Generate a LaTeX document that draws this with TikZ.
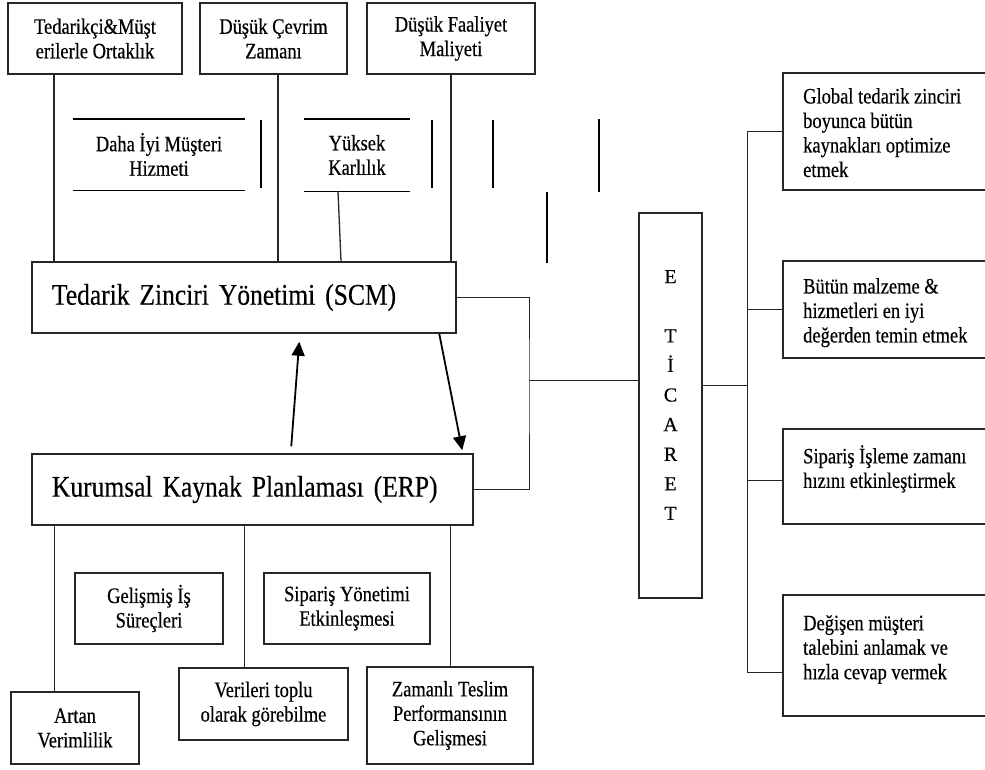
\documentclass[tikz,border=0pt]{standalone}
\usepackage{fontspec}
\setmainfont{Liberation Serif}
\newfontfamily\boxfam{Liberation Serif}[FakeStretch=0.84,FakeBold=0.4]
\newfontfamily\mainfam{Liberation Serif}[FakeStretch=0.85,WordSpace=0.6,FakeBold=0.3]
\newfontfamily\etifam{Liberation Serif}[FakeBold=0.4]
\usetikzlibrary{arrows.meta}
\newcommand\boxtxt{\boxfam\fontsize{22}{24.5}\selectfont}
\newcommand\maintxt{\mainfam\fontsize{30}{32}\selectfont}
\newcommand\etitxt{\etifam\fontsize{20}{29.6}\selectfont}
\begin{document}
\begin{tikzpicture}[x=1pt,y=-1pt,
  box/.style={draw=black!85, line width=1.5pt, inner sep=0pt, align=center, font=\boxtxt},
  openbox/.style={inner sep=0pt, align=center, font=\boxtxt},
  bigbox/.style={draw=black!85, line width=1.5pt, inner ysep=0pt, inner xsep=20pt, align=left, font=\maintxt},
  txt/.style={inner sep=0pt, align=left, font=\boxtxt, anchor=north west},
  conn/.style={draw=black!85, line width=1.3pt},
  thinconn/.style={draw=black!85, line width=0.9pt},
  stray/.style={draw=black, line width=1.4pt},
  arr/.style={draw=black, line width=1.8pt, -{Triangle[length=14pt,width=13pt]}}
]
\useasboundingbox (0,0) rectangle (985,769);
\fill[white] (0,0) rectangle (985,769);

% top boxes
\node[box, minimum width=174pt, minimum height=71pt] (t1) at (95,38.5) {Tedarikçi\&Müşt\\erilerle Ortaklık};
\node[box, minimum width=147pt, minimum height=71pt] (t2) at (273.5,38.5) {Düşük Çevrim\\Zamanı};
\node[box, minimum width=168pt, minimum height=71pt] (t3) at (451,38.5) {Düşük Faaliyet\\Maliyeti};

% open boxes
\node[openbox, minimum width=172pt, minimum height=71pt] (m1) at (159,154.5) {Daha İyi Müşteri\\Hizmeti};
\node[openbox, minimum width=106pt, minimum height=72pt] (m2) at (357,155) {Yüksek\\Karlılık};
\draw[stray] (m1.north west) -- (m1.north east) (m1.south west) -- (m1.south east);
\draw[stray] (m2.north west) -- (m2.north east) (m2.south west) -- (m2.south east);
\draw[stray] (261,120) -- (261,188);
\draw[stray] (432,120) -- (432,188);
\draw[stray] (493,120) -- (493,188);
\draw[stray] (599,119) -- (599,192);
\draw[stray] (547,192) -- (547,263);

% SCM and ERP
\node[bigbox, minimum width=424pt, minimum height=71pt, text width=384pt] (scm) at (244,297.5) {Tedarik Zinciri Yönetimi (SCM)};
\node[bigbox, minimum width=441pt, minimum height=71pt, text width=401pt] (erp) at (252.5,489.5) {Kurumsal Kaynak Planlaması (ERP)};

% top connectors
\draw[conn] (54,0 |- t1.south) -- (54,0 |- scm.north);
\draw[conn] (278,0 |- t2.south) -- (278,0 |- scm.north);
\draw[conn] (t3.south) -- (451,0 |- scm.north);
\draw[conn] (338,0 |- m2.south) -- (341,0 |- scm.north);

% arrows
\draw[arr] ([xshift=260pt,yshift=7pt]erp.north west) -- ([xshift=268pt,yshift=-8pt]scm.south west);
\draw[arr] ([xshift=408pt]scm.south west) -- ([xshift=431pt,yshift=3pt]erp.north west);

% E-ticaret
\node[draw=black!85, line width=1.5pt, minimum width=63pt, minimum height=385pt, inner sep=0pt] (eti) at (670.5,405.5) {};
\node[inner sep=0pt, align=center, font=\etitxt] (etil) at (670.5,395) {E\\[29.6pt]T\\İ\\C\\A\\R\\E\\T};

\coordinate (jx) at (529,380);
\draw[thinconn] (scm.east) -| (jx) |- (erp.east);
\draw[thinconn] (jx) -- (jx -| eti.west);

% right boxes
\node[draw=black!85, line width=1.5pt, minimum width=207pt, minimum height=117pt, inner sep=0pt] (r1) at (886.5,131.5) {};
\node[draw=black!85, line width=1.5pt, minimum width=207pt, minimum height=97pt, inner sep=0pt] (r2) at (886.5,309.5) {};
\node[draw=black!85, line width=1.5pt, minimum width=207pt, minimum height=95pt, inner sep=0pt] (r3) at (886.5,476.5) {};
\node[draw=black!85, line width=1.5pt, minimum width=207pt, minimum height=121pt, inner sep=0pt] (r4) at (886.5,655.5) {};
\node[txt] (r1t) at (803,88) {Global tedarik zinciri\\boyunca bütün\\kaynakları optimize\\etmek};
\node[txt] (r2t) at (803,278) {Bütün malzeme \&\\hizmetleri en iyi\\değerden temin etmek};
\node[txt] (r3t) at (803,445) {Sipariş İşleme zamanı\\hızını etkinleştirmek};
\node[txt] (r4t) at (803,615) {Değişen müşteri\\talebini anlamak ve\\hızla cevap vermek};

\coordinate (e1) at ([yshift=20.5pt]eti.east);
\coordinate (b1) at (747,0 |- r1.west);
\coordinate (b3) at ([yshift=-3.5pt]r3.west);
\coordinate (b4) at ([yshift=-16.5pt]r4.west);
\coordinate (b4x) at (747,0 |- b4);
\draw[thinconn] (e1) -- (747,0 |- e1);
\draw[thinconn] (b1) -- (b4x);
\draw[thinconn] (b1) -- (r1.west);
\draw[thinconn] (747,0 |- r2.west) -- (r2.west);
\draw[thinconn] (747,0 |- b3) -- (b3);
\draw[thinconn] (b4x) -- (b4);

% bottom boxes
\node[box, minimum width=148pt, minimum height=71pt] (gel) at (149,608.5) {Gelişmiş İş\\Süreçleri};
\node[box, minimum width=166pt, minimum height=71pt] (sip) at (347,608.5) {Sipariş Yönetimi\\Etkinleşmesi};
\node[box, minimum width=128pt, minimum height=72pt] (art) at (75,728) {Artan\\Verimlilik};
\node[box, minimum width=169pt, minimum height=72pt] (ver) at (263.5,704) {Verileri toplu\\olarak görebilme};
\node[box, minimum width=166pt, minimum height=97pt] (zam) at (450,715.5) {Zamanlı Teslim\\Performansının\\Gelişmesi};

\draw[thinconn] (54,0 |- erp.south) -- (54,0 |- art.north);
\draw[thinconn] (244,0 |- erp.south) -- (244,0 |- ver.north);
\draw[thinconn] (450,0 |- erp.south) -- (zam.north);
\end{tikzpicture}
\end{document}
